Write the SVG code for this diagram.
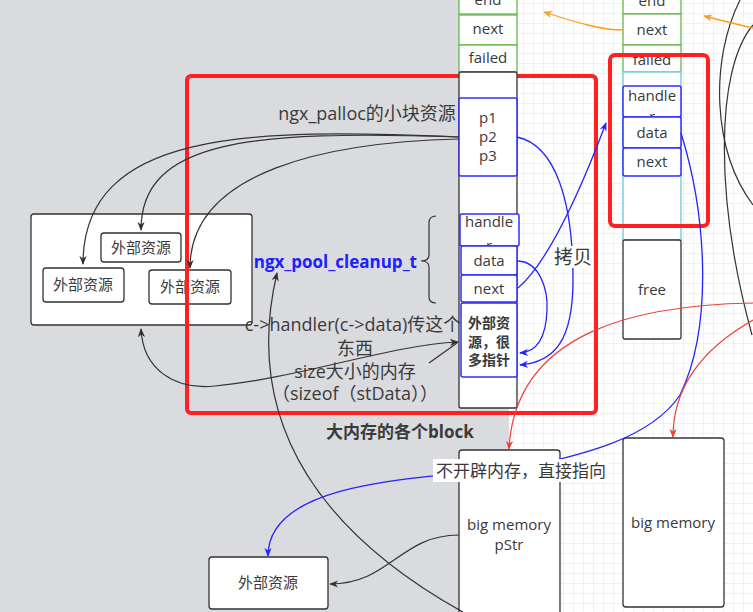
<svg xmlns="http://www.w3.org/2000/svg" width="753" height="612" viewBox="0 0 753 612">
<defs>
<pattern id="grid" width="10" height="10" patternUnits="userSpaceOnUse" x="3" y="3"><path d="M10 0H0V10" fill="none" stroke="#e3e3e3" stroke-width="1"/></pattern>
<style>
.t{font-family:"Open Sans","Noto Sans CJK SC",sans-serif;fill:#3a3a3a;text-anchor:middle}
.s14{font-size:15px}
.s17{font-size:18px}
.bold{font-weight:bold}
.box{fill:#fff;stroke:#333;stroke-width:1.3}
.gr{fill:#fff;stroke:#64b94a;stroke-width:1.3}
.bl{fill:#fff;stroke:#2e2eff;stroke-width:1.5}
.cy{fill:#fff;stroke:#79d0dd;stroke-width:1.5}
.red{fill:none;stroke:#ff2121;stroke-width:4}
.ck{fill:none;stroke:#333;stroke-width:1.2}
.cb{fill:none;stroke:#2424ff;stroke-width:1.3}
.cr{fill:none;stroke:#f0403a;stroke-width:1.2}
.co{fill:none;stroke:#ff9c1a;stroke-width:1.3}
</style>
<marker id="ak" viewBox="0 0 10 10" refX="9" refY="5" markerWidth="9" markerHeight="9" orient="auto" markerUnits="userSpaceOnUse"><path d="M0 1L10 5L0 9L3 5Z" fill="#333"/></marker>
<marker id="aks" viewBox="0 0 10 10" refX="9" refY="5" markerWidth="9" markerHeight="9" orient="auto-start-reverse" markerUnits="userSpaceOnUse"><path d="M0 1L10 5L0 9L3 5Z" fill="#333"/></marker>
<marker id="ab" viewBox="0 0 10 10" refX="9" refY="5" markerWidth="9" markerHeight="9" orient="auto" markerUnits="userSpaceOnUse"><path d="M0 1L10 5L0 9L3 5Z" fill="#2424ff"/></marker>
<marker id="ar" viewBox="0 0 10 10" refX="9" refY="5" markerWidth="9" markerHeight="9" orient="auto" markerUnits="userSpaceOnUse"><path d="M0 1L10 5L0 9L3 5Z" fill="#f0403a"/></marker>
<marker id="ao" viewBox="0 0 10 10" refX="9" refY="5" markerWidth="9" markerHeight="9" orient="auto" markerUnits="userSpaceOnUse"><path d="M0 1L10 5L0 9L3 5Z" fill="#ff9c1a"/></marker>
</defs>

<g id="background">
<rect x="0" y="0" width="753" height="612" fill="#fff"/>
<rect x="0" y="0" width="753" height="612" fill="url(#grid)"/>
<rect x="0" y="0" width="509" height="612" fill="#dadbdf"/>
</g>

<g id="ext-group">
<rect class="box" x="31" y="214" width="221" height="111" rx="3"/>
</g>
<g id="ext1">
<rect class="box" x="101" y="233" width="80" height="29" rx="3"/>
<text class="t s14" x="141" y="253">外部资源</text>
</g>
<g id="ext2">
<rect class="box" x="43" y="268" width="81" height="34" rx="3"/>
<text class="t s14" x="83" y="290">外部资源</text>
</g>
<g id="ext3">
<rect class="box" x="149" y="270" width="82" height="34" rx="3"/>
<text class="t s14" x="190" y="292">外部资源</text>
</g>

<g id="block-highlight">
<rect class="red" x="187" y="76" width="409" height="337" rx="4"/>
</g>

<g id="left-column">
<rect class="gr" x="459" y="-16" width="58" height="30"/>
<text class="t s14" x="488" y="5">end</text>
<rect class="gr" x="459" y="15" width="58" height="30"/>
<text class="t s14" x="488" y="34">next</text>
<rect class="gr" x="459" y="45" width="58" height="27"/>
<text class="t s14" x="488" y="63">failed</text>
<rect class="box" x="459" y="72" width="58" height="336" rx="2"/>
</g>

<g id="p-block">
<rect class="bl" x="459" y="98" width="58" height="78" rx="2"/>
<text class="t s14" x="488" y="123">p1</text>
<text class="t s14" x="488" y="142">p2</text>
<text class="t s14" x="488" y="161">p3</text>
</g>

<g id="cleanup-left">
<rect class="bl" x="460" y="214" width="59" height="32" rx="2"/>
<text class="t s14" x="489" y="227">handle</text>
<text class="t s14" x="489" y="251">r</text>
<rect class="bl" x="461" y="246" width="56" height="29" rx="2"/>
<text class="t s14" x="489" y="266">data</text>
<rect class="bl" x="461" y="275" width="56" height="27" rx="2"/>
<text class="t s14" x="489" y="294">next</text>
</g>

<g id="ext-pointers">
<rect class="bl" x="461" y="303" width="56" height="74" rx="2"/>
<text class="t bold" x="489" y="328" style="font-size:14px">外部资</text>
<text class="t bold" x="489" y="347" style="font-size:14px">源，很</text>
<text class="t bold" x="489" y="365" style="font-size:14px">多指针</text>
</g>

<g id="right-column">
<rect class="gr" x="623" y="-16" width="58" height="30"/>
<text class="t s14" x="652" y="6">end</text>
<rect class="gr" x="623" y="14" width="58" height="31"/>
<text class="t s14" x="652" y="35">next</text>
<rect class="gr" x="623" y="45" width="58" height="27"/>
<text class="t s14" x="652" y="65">failed</text>
<rect class="cy" x="623" y="72" width="58" height="168"/>
<rect class="bl" x="623" y="86" width="58" height="31" rx="2"/>
<text class="t s14" x="652" y="101">handle</text>
<text class="t s14" x="652" y="122">r</text>
<rect class="bl" x="623" y="117" width="58" height="31" rx="2"/>
<text class="t s14" x="652" y="138">data</text>
<rect class="bl" x="623" y="148" width="58" height="28" rx="2"/>
<text class="t s14" x="652" y="167">next</text>
</g>

<g id="free">
<rect class="box" x="623" y="240" width="58" height="99" rx="2"/>
<text class="t s14" x="652" y="295">free</text>
</g>

<g id="cleanup-highlight">
<rect class="red" x="610" y="55" width="98" height="171" rx="5"/>
</g>

<g id="bigmem1">
<rect class="box" x="459" y="450" width="101" height="172" rx="3"/>
<text class="t s14" x="509" y="530">big memory</text>
<text class="t s14" x="509" y="550">pStr</text>
</g>
<g id="bigmem2">
<rect class="box" x="623" y="438" width="101" height="169" rx="3"/>
<text class="t s14" x="673" y="528">big memory</text>
</g>
<g id="ext-bottom">
<rect class="box" x="209" y="557" width="119" height="52" rx="3"/>
<text class="t s14" x="268" y="588">外部资源</text>
</g>

<g id="brace">
<path d="M436 216C431 216 429 218 429 223L429 255C429 259 426 261 421 261C426 261 429 263 429 267L429 297C429 301 431 303 436 303" fill="none" stroke="#333" stroke-width="1.2"/>
</g>

<g id="connectors">
<path class="ck" d="M459 137C250 128 83 130 83 264" marker-end="url(#ak)"/>
<path class="ck" d="M459 137C250 130 141 140 141 230" marker-end="url(#ak)"/>
<path class="ck" d="M459 139C330 142 190 170 190 268" marker-end="url(#ak)"/>
<path class="ck" d="M141 329C143 370 175 390 215 386C300 378 390 345 458 342" marker-start="url(#aks)" marker-end="url(#ak)"/>
<path class="ck" d="M429 363L457 343"/>
<path class="ck" d="M470 616C330 540 240 430 277 273" marker-end="url(#ak)"/>
<path class="ck" d="M459 535C400 535 390 584 330 584" marker-end="url(#ak)"/>
<path class="ck" d="M740 0C710 60 712 150 753 205"/>
<path class="ck" d="M753 25C715 70 715 200 752 335"/>
<path class="co" d="M623 30C600 30 575 22 544 12" marker-end="url(#ao)"/>
<path class="co" d="M753 28C735 24 720 20 704 16" marker-end="url(#ao)"/>
<path class="cb" d="M517 137C555 145 573 200 573 280C573 340 555 362 520 365" marker-end="url(#ab)"/>
<path class="cb" d="M518 261C540 262 548 290 547 310C546 340 535 352 520 353" marker-end="url(#ab)"/>
<path class="cb" d="M518 288C545 265 575 205 606 123" marker-end="url(#ab)"/>
<path class="cb" d="M681 133C708 220 712 330 680 395C650 440 580 455 520 468C420 478 268 480 268 556" marker-end="url(#ab)"/>
<path class="cr" d="M753 303C640 305 515 330 509 449" marker-end="url(#ar)"/>
<path class="cr" d="M753 320C700 350 673 390 673 437" marker-end="url(#ar)"/>
</g>

<g id="labels">
<text class="t s17" x="367" y="120">ngx_palloc的小块资源</text>
<text class="t s17 bold" x="417" y="268" style="fill:#2020ff;text-anchor:end;font-size:17px">ngx_pool_cleanup_t</text>
<text class="t s17" x="353" y="331">c-&gt;handler(c-&gt;data)传这个</text>
<text class="t s17" x="355" y="355">东西</text>
<text class="t s17" x="355" y="378">size大小的内存</text>
<text class="t s17" x="355" y="400">（sizeof（stData））</text>
<text class="t s17 bold" x="400" y="438" style="font-size:17px">大内存的各个block</text>
<rect x="553" y="246" width="40" height="22" fill="#fff"/>
<text class="t" x="573" y="264" style="font-size:19px">拷贝</text>
<rect x="433" y="459" width="176" height="23" fill="#fff"/>
<text class="t s17" x="521" y="477" style="font-size:17px">不开辟内存，直接指向</text>
</g>
</svg>
